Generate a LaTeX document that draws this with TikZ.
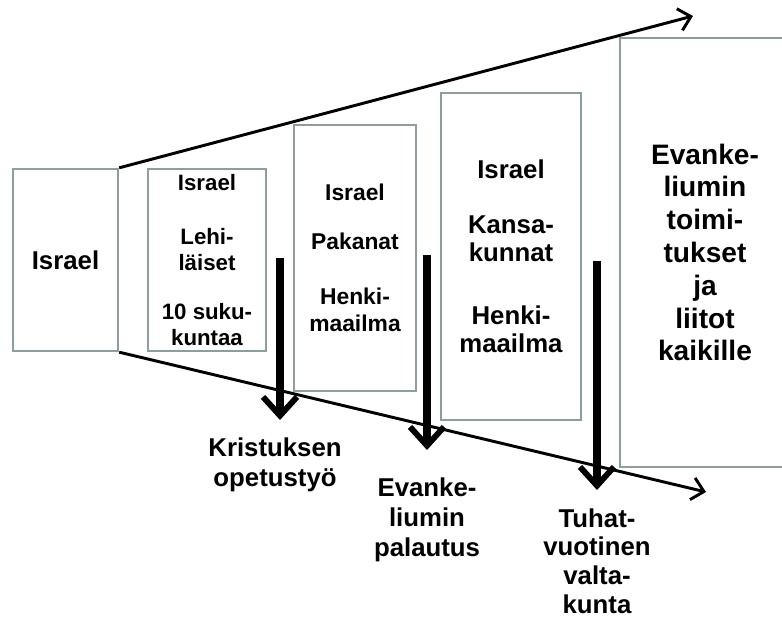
\documentclass[tikz,border=0pt]{standalone}
\usepackage{fontspec}
\setmainfont{Liberation Sans}
\usetikzlibrary{arrows.meta}

\definecolor{reuna}{RGB}{140,158,158}

\begin{document}
\begin{tikzpicture}[x=0.03cm,y=-0.03cm,
  kehys/.style={draw=reuna,line width=2pt,inner sep=0pt,align=center},
  ohut/.style={line width=2.5pt,-{Straight Barb[length=10pt,width=19pt]}},
  paksu/.style={line width=6pt,-{Straight Barb[length=16pt,width=29pt,line width=5pt]}},
  seli/.style={align=center,inner sep=0pt,font=\bfseries\fontsize{22}{25.5}\selectfont}]
  \clip (0,0) rectangle (782,619);
  \fill[white] (0,0) rectangle (782,619);

  % laatikot
  \node[kehys,minimum width=3.15cm,minimum height=5.46cm,font=\bfseries\fontsize{22}{26}\selectfont] (israel) at (65.5,260) {Israel};
  \node[kehys,minimum width=3.54cm,minimum height=5.46cm,font=\bfseries\fontsize{19}{22}\selectfont] (lehi) at (207,260)
    {Israel\\[24pt]Lehi-\\läiset\\[20pt]10 suku-\\kuntaa};
  \node[kehys,minimum width=3.66cm,minimum height=7.98cm,font=\bfseries\fontsize{19.5}{23}\selectfont] (pakanat) at (355,258)
    {Israel\\[19pt]Pakanat\\[24pt]Henki-\\maailma};
  \node[kehys,minimum width=4.2cm,minimum height=9.81cm,font=\bfseries\fontsize{22}{24}\selectfont] (kansat) at (511,256.5)
    {Israel\\[23pt]Kansa-\\kunnat\\[30pt]Henki-\\maailma};
  \node[kehys,minimum width=5.1cm,minimum height=12.87cm,font=\bfseries\fontsize{24}{28}\selectfont] (kaikille) at (705,252.5)
    {Evanke-\\liumin\\toimi-\\tukset\\ja\\liitot\\kaikille};

  % aikajana
  \coordinate (yla) at (693,16);
  \coordinate (ala) at (706,492);
  \draw[ohut] (israel.north east) -- (yla);
  \draw[ohut] (israel.south east) -- (ala);

  % tapahtumat
  \node[seli] (opetus) at (275,465) {Kristuksen\\opetustyö};
  \node[seli] (palautus) at (427,520) {Evanke-\\liumin\\palautus};
  \node[seli,font=\bfseries\fontsize{22}{24.5}\selectfont] (valtakunta) at (597,561) {Tuhat-\\vuotinen\\valta-\\kunta};

  \coordinate (a1) at (280,258);
  \coordinate (k1) at (280,420);
  \coordinate (a2) at (427,255);
  \coordinate (k2) at (427,450);
  \coordinate (a3) at (597,261);
  \coordinate (k3) at (597,490);
  \draw[paksu] (a1) -- (k1);
  \draw[paksu] (a2) -- (k2);
  \draw[paksu] (a3) -- (k3);
\end{tikzpicture}
\end{document}
